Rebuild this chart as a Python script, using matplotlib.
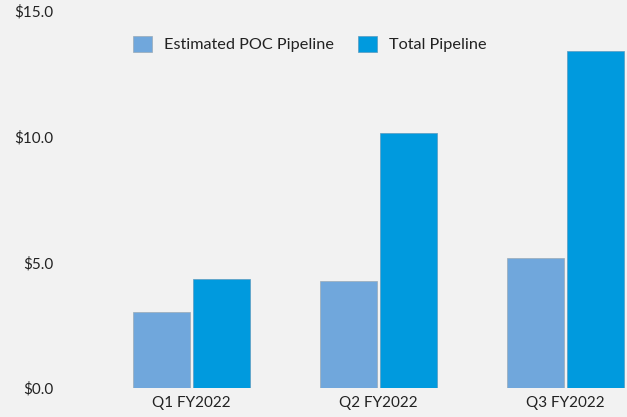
import matplotlib
matplotlib.use("Agg")
import matplotlib.pyplot as plt
import numpy as np

categories = ["Q1 FY2022", "Q2 FY2022", "Q3 FY2022"]
poc_values = [3.02, 4.25, 5.16]
total_values = [4.33, 10.16, 13.41]
series_names = ["Estimated POC Pipeline", "Total Pipeline"]
y_ticks = [0, 5, 10, 15]
y_tick_labels = ["$0.0", "$5.0", "$10.0", "$15.0"]

plt.rcParams['font.family'] = ['Lato', 'DejaVu Sans']

W, H = 627, 417
fig = plt.figure(figsize=(W/100, H/100), dpi=100, facecolor="#f2f2f2")
ax = fig.add_axes([70/W, (H-388)/H, (W-70)/W, (388-11)/H])
ax.set_facecolor("#f2f2f2")

x = np.arange(len(categories))
bw = 0.305
off = 0.16
ax.bar(x - off, poc_values, width=bw, color="#70a7dc", edgecolor="#9aaab8", linewidth=0.5, label=series_names[0])
ax.bar(x + off, total_values, width=bw, color="#009ade", edgecolor="#5a9ac0", linewidth=0.5, label=series_names[1])

ax.set_xlim((70-191.5)/187, (627-191.5)/187)
ax.set_ylim(0, 15)
ax.set_yticks(y_ticks)
ax.set_yticklabels(y_tick_labels)
ax.set_xticks(x)
ax.set_xticklabels(categories)
ax.tick_params(axis='both', length=0, labelsize=11, colors="#222222")
ax.tick_params(axis='y', pad=12)
ax.tick_params(axis='x', pad=6)
for s in ax.spines.values():
    s.set_visible(False)

leg = ax.legend(loc="center", bbox_to_anchor=((310-70)/(W-70), (388-44)/(388-11)),
                ncol=2, frameon=False, fontsize=11.7, handlelength=1.13, handleheight=1.15,
                columnspacing=1.48, handletextpad=0.76, borderpad=0)
for t in leg.get_texts():
    t.set_color("#222222")

fig.savefig("out.png", dpi=100, facecolor=fig.get_facecolor())
